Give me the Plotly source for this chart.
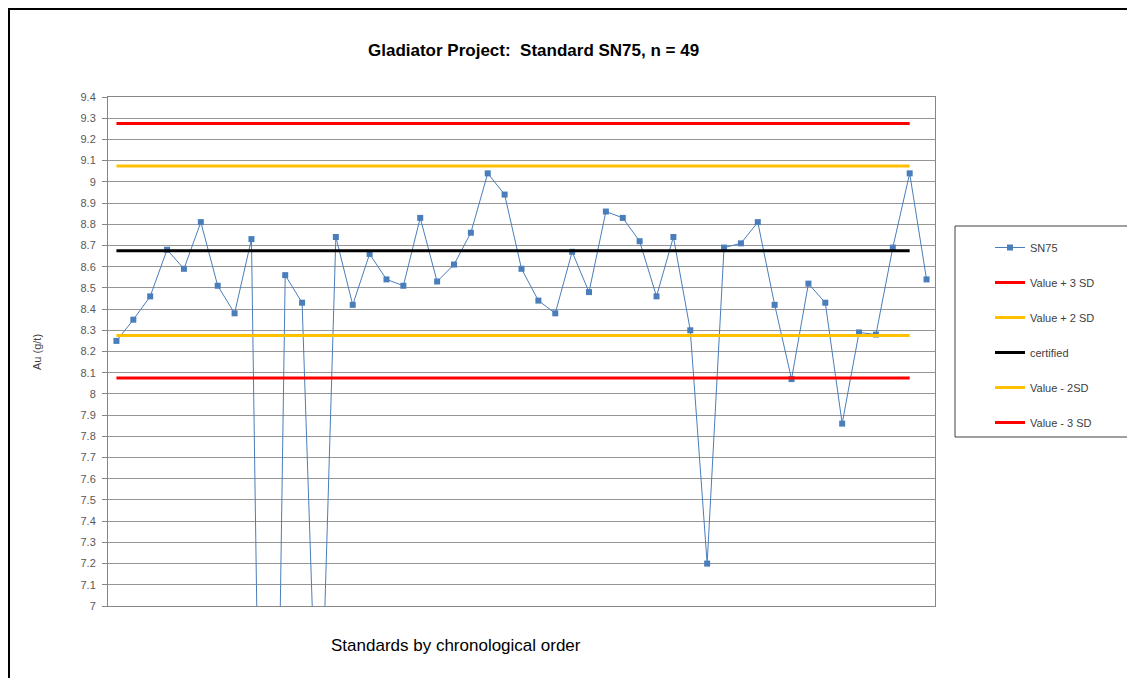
import plotly.graph_objects as go

# ---- data ----
categories = list(range(1, 50))
sn75 = [8.25, 8.35, 8.46, 8.68, 8.59, 8.81, 8.51, 8.38, 8.73, 3.20,
        8.56, 8.43, 6.05, 8.74, 8.42, 8.66, 8.54, 8.51, 8.83, 8.53,
        8.61, 8.76, 9.04, 8.94, 8.59, 8.44, 8.38, 8.67, 8.48, 8.86,
        8.83, 8.72, 8.46, 8.74, 8.30, 7.20, 8.69, 8.71, 8.81, 8.42,
        8.07, 8.52, 8.43, 7.86, 8.29, 8.28, 8.69, 9.04, 8.54]
certified = 8.675
plus_3sd = 9.275
plus_2sd = 9.075
minus_2sd = 8.275
minus_3sd = 8.075
ref_categories = categories[:48]
y_tick_values = [7.0, 7.1, 7.2, 7.3, 7.4, 7.5, 7.6, 7.7, 7.8, 7.9, 8.0, 8.1,
                 8.2, 8.3, 8.4, 8.5, 8.6, 8.7, 8.8, 8.9, 9.0, 9.1, 9.2, 9.3, 9.4]
y_tick_labels = ["7", "7.1", "7.2", "7.3", "7.4", "7.5", "7.6", "7.7", "7.8", "7.9", "8", "8.1",
                 "8.2", "8.3", "8.4", "8.5", "8.6", "8.7", "8.8", "8.9", "9", "9.1", "9.2", "9.3", "9.4"]

# ---- layout geometry (page pixels; the page body adds an 8px offset) ----
OFF = 8
W, H = 1135 - OFF, 678 - OFF
L, R, T, B = 108 - OFF, 935 - OFF, 97 - OFF, 606 - OFF
pw, ph = R - L, B - T

def px(x):
    return (x - OFF - L) / pw

def py(y):
    return (B - (y - OFF)) / ph

fig = go.Figure()

fig.add_trace(go.Scatter(
    x=categories, y=sn75, name="SN75", mode="lines+markers",
    line=dict(color="#4A7EBB", width=1),
    marker=dict(symbol="square", size=6, color="#4A7EBB"),
    legendgroup="a"))

refs = [("Value + 3 SD", plus_3sd, "#FF0000"),
        ("Value + 2 SD", plus_2sd, "#FFC000"),
        ("certified", certified, "#000000"),
        ("Value - 2SD", minus_2sd, "#FFC000"),
        ("Value - 3 SD", minus_3sd, "#FF0000")]
for i, (nm, val, col) in enumerate(refs):
    fig.add_trace(go.Scatter(
        x=ref_categories, y=[val] * len(ref_categories), name=nm, mode="lines",
        line=dict(color=col, width=3), legendgroup="g%d" % i))

fig.update_layout(
    width=W, height=H,
    margin=dict(l=L, r=W - R, t=T, b=H - B, autoexpand=False),
    paper_bgcolor="white", plot_bgcolor="white",
    font=dict(family="Liberation Sans, Arial, sans-serif", size=10, color="#404040"),
    showlegend=True,
    legend=dict(x=px(990), y=py(233), xanchor="left", yanchor="top",
                bgcolor="rgba(0,0,0,0)", borderwidth=0,
                font=dict(size=11, color="#404040"),
                tracegroupgap=16, itemwidth=30),
    xaxis=dict(range=[0.5, 49.5], showticklabels=False, showgrid=False,
               zeroline=False, showline=True, mirror=True, linecolor="#868686",
               linewidth=1, ticks=""),
    yaxis=dict(range=[7, 9.4], tickvals=y_tick_values, ticktext=y_tick_labels,
               showgrid=True, gridcolor="#969696", gridwidth=1, zeroline=False,
               showline=True, mirror=True, linecolor="#868686", linewidth=1,
               ticks="outside", ticklen=5, tickcolor="#868686",
               ticklabelstandoff=4,
               tickfont=dict(size=11, color="#595959")),
)

shapes = [
    # outer chart border
    dict(type="rect", xref="paper", yref="paper",
         x0=px(9), x1=px(1160), y0=py(700), y1=py(9),
         line=dict(color="black", width=2), fillcolor="rgba(0,0,0,0)", layer="above"),
    # legend box
    dict(type="rect", xref="paper", yref="paper",
         x0=px(955), x1=px(1128), y0=py(437), y1=py(226),
         line=dict(color="#404040", width=1), fillcolor="rgba(0,0,0,0)"),
]
fig.update_layout(shapes=shapes)

fig.add_annotation(text="<b>Gladiator Project:\u00a0 Standard SN75, n = 49</b>",
                   xref="paper", yref="paper", x=px(533), y=py(50),
                   xanchor="center", yanchor="middle",
                   showarrow=False, font=dict(size=17, color="#000000",
                                              family="Liberation Sans, Arial, sans-serif"))
fig.add_annotation(text="Standards by chronological order",
                   xref="paper", yref="paper", x=px(456), y=py(645),
                   xanchor="center", yanchor="middle",
                   showarrow=False, font=dict(size=17, color="#000000",
                                              family="Liberation Sans, Arial, sans-serif"))
fig.add_annotation(text="Au (g/t)", textangle=-90,
                   xref="paper", yref="paper", x=px(37), y=py(352),
                   xanchor="center", yanchor="middle",
                   showarrow=False, font=dict(size=11, color="#404040",
                                              family="Liberation Sans, Arial, sans-serif"))

fig.write_html("out.html")
